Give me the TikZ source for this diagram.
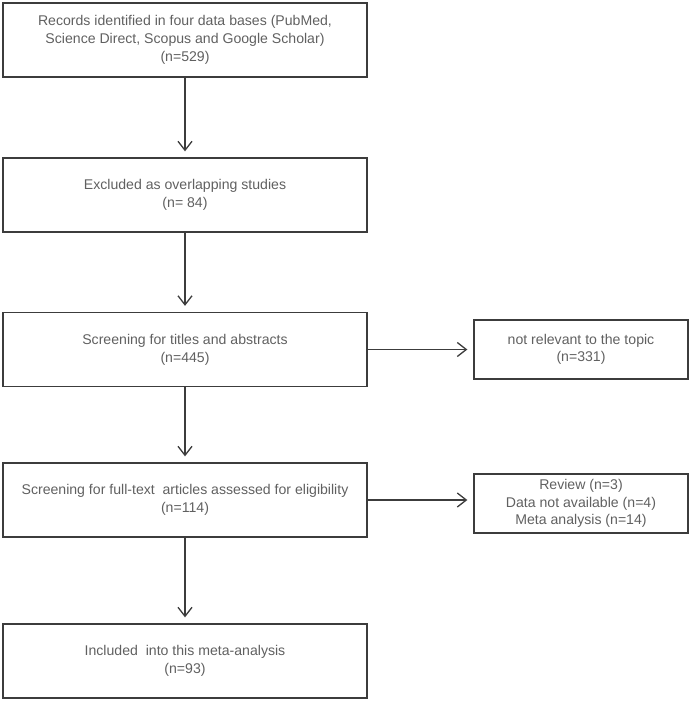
\documentclass[tikz,border=0pt]{standalone}
\usepackage{fontspec}
\setmainfont{Liberation Sans}
\usepackage{tikz}
\usetikzlibrary{arrows.meta}
\usetikzlibrary{positioning}

\definecolor{linegray}{HTML}{3C3C3C}
\definecolor{textgray}{HTML}{606060}

\tikzset{
    mainbox/.style={draw=linegray, line width=1.3pt, minimum width=364pt, minimum height=74pt,
        align=center, text=textgray, font=\fontsize{14.1}{18}\selectfont, inner sep=0pt},
    sidebox/.style={draw=linegray, line width=1.3pt, minimum width=214pt, minimum height=59pt,
        align=center, text=textgray, font=\fontsize{14.1}{17.5}\selectfont, inner sep=0pt},
    flow/.style={draw=linegray, line width=1.3pt, -{Straight Barb[length=9pt,width=14pt]}, shorten >=6pt}
}

\begin{document}
\begin{tikzpicture}[x=1pt, y=-1pt]
        \useasboundingbox (0, 0) rectangle (692, 701);

        % Main column
        \node[mainbox] (records) at (185, 40) {Records identified in four data bases (PubMed,\\Science Direct, Scopus and Google Scholar)\\(n=529)};
        \node[mainbox] (overlap) at (185, 195) {Excluded as overlapping studies\\(n= 84)};
        \node[mainbox] (screen) at (185, 349.5) {Screening for titles and abstracts\\(n=445)};
        \node[mainbox] (fulltext) at (185, 500) {Screening for full-text\ \ articles assessed for eligibility\\(n=114)};
        \node[mainbox] (included) at (185, 661) {Included\ \ into this meta-analysis\\(n=93)};

        % Exclusions
        \node[sidebox] (notrel) at (581, 349.5) {not relevant to the topic\\(n=331)};
        \node[sidebox] (excl) at (581, 503.5) {Review (n=3)\\Data not available (n=4)\\Meta analysis (n=14)};

        % Arrows
        \draw[flow] (records.south) -- (overlap.north);
        \draw[flow] (overlap.south) -- (screen.north);
        \draw[flow] (screen.south) -- (fulltext.north);
        \draw[flow] (fulltext.south) -- (included.north);
        \draw[flow] (screen.east) -- (notrel.west);
        \draw[flow] (fulltext.east) -- (fulltext.east -| excl.west);
    \end{tikzpicture}
\end{document}
